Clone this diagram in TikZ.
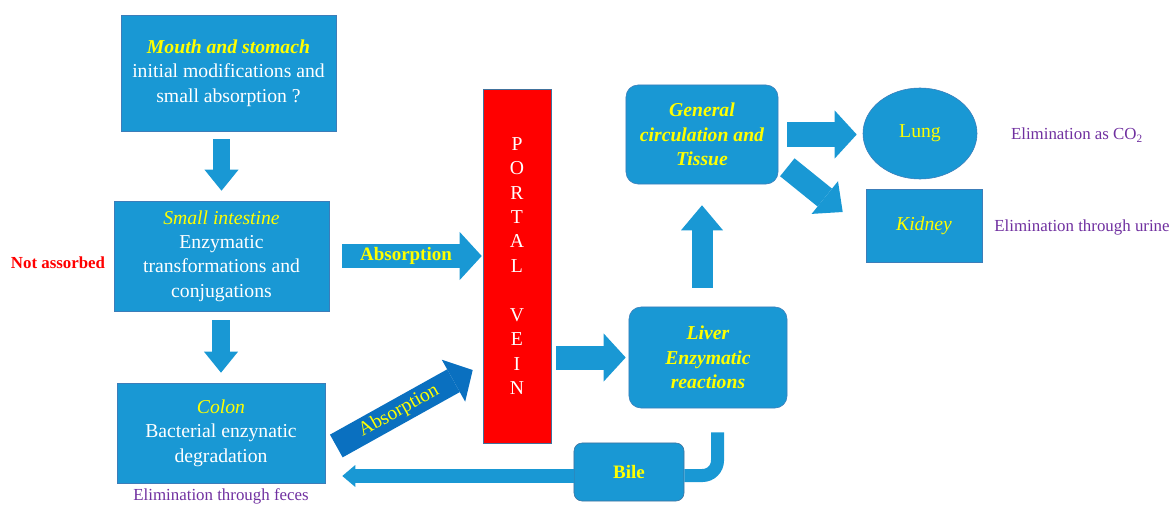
\documentclass[tikz,border=0pt]{standalone}
\usepackage{fontspec}
\setmainfont{Liberation Serif}
\usetikzlibrary{arrows.meta,calc,shapes.geometric}
\definecolor{boxblue}{RGB}{25,152,212}
\definecolor{boxedge}{RGB}{60,125,185}
\definecolor{deepblue}{RGB}{10,112,192}
\definecolor{titleyellow}{RGB}{255,255,0}
\definecolor{notepurple}{RGB}{112,48,160}
\definecolor{veinedge}{RGB}{65,113,156}
\newcommand{\organname}[1]{\textcolor{titleyellow}{\itshape #1}}
\tikzset{
  organ/.style={draw=boxedge, line width=0.4pt, fill=boxblue, text=white, align=center, inner sep=2pt, font=\fontsize{14}{17.4}\selectfont},
  softorgan/.style={organ, rounded corners=0.3cm, text=titleyellow, font=\fontsize{14}{17.4}\selectfont\bfseries\itshape},
  note/.style={text=notepurple, font=\fontsize{12}{14}\selectfont},
  flowarrow/.style={draw=boxblue, line width=0.6cm, -{Triangle[length=0.55cm, width=1.2cm, line width=0pt]}},
  downarrow/.style={draw=boxblue, line width=0.425cm, -{Triangle[length=0.525cm, width=0.85cm, line width=0pt]}},
  bilearrow/.style={draw=boxblue, line width=0.35cm, -{Triangle[length=0.325cm, width=0.55cm, line width=0pt]}},
  arrowtext/.style={text=titleyellow, font=\fontsize{13.5}{16}\selectfont\bfseries, inner sep=0pt}
}
\begin{document}
\begin{tikzpicture}[x=0.025cm, y=-0.025cm]
        \useasboundingbox (0,0) rectangle (1172,506);

        \node[organ, minimum width=5.375cm, minimum height=2.9cm] at (228.5,73) (mouth) {{\bfseries\organname{Mouth and stomach}}\\initial modifications and\\small absorption ?};
        \node[organ, minimum width=5.375cm, minimum height=2.75cm] at (221.5,256) (intestine) {\organname{Small intestine}\\Enzymatic\\transformations and\\conjugations};
        \node[organ, minimum width=5.2cm, minimum height=2.5cm] at (221,433) (colon) {\organname{Colon}\\Bacterial enzynatic\\degradation};
        \node[draw=veinedge, fill=red, text=white, align=center, inner sep=0pt, minimum width=1.7cm, minimum height=8.85cm, font=\fontsize{14}{17.4}\selectfont] at (517,266) (portal) {P\\O\\R\\T\\A\\L\\\mbox{}\\V\\E\\I\\N};
        \node[softorgan, minimum width=3.95cm, minimum height=2.525cm] at (708,357.5) (liver) {Liver\\Enzymatic\\reactions};
        \node[softorgan, minimum width=3.8cm, minimum height=2.475cm] at (702,134.5) (general) {General\\circulation and\\Tissue};
        \node[organ, ellipse, inner sep=0pt, minimum width=2.85cm, minimum height=2.275cm] at (920,133.5) (lung) {\textcolor{titleyellow}{Lung}};
        \node[organ, minimum width=2.9cm, minimum height=1.825cm] at (924,225.5) (kidney) {\organname{Kidney}};
        \node[organ, rounded corners=0.2cm, draw=veinedge, minimum width=2.75cm, minimum height=1.45cm, text=titleyellow, font=\fontsize{13.5}{16}\selectfont\bfseries] at (629,472) (bile) {Bile};

        \node[text=red, font=\fontsize{12}{14}\selectfont\bfseries] at (58,263) (lost) {Not assorbed};
        \node[note] at (221,496) (feces) {Elimination through feces};
        \node[note] at (1077,135) (co2) {Elimination as CO\textsubscript{2}};
        \node[note] at (1082,227) (urine) {Elimination through urine};

        \draw[downarrow, shorten <=0.2cm, shorten >=0.25cm] (mouth.south -| intestine.north) -- (intestine.north);
        \draw[downarrow, shorten <=0.225cm, shorten >=0.25cm] (intestine.south -| colon.north) -- (colon.north);
        \draw[flowarrow, line width=0.575cm, shorten <=0.325cm, shorten >=0.025cm] (intestine.east) -- (intestine.east -| portal.west) node[arrowtext, midway] (absorbed) {Absorption};
        \draw[flowarrow, draw=deepblue, line width=0.65cm] ($(colon.east)+(11,13)$) -- ($(portal.west)+(-10,104)$) node[arrowtext, pos=0.46, sloped, font=\fontsize{14}{16}\selectfont] (reabsorbed) {Absorption};
        \draw[flowarrow, shorten <=0.125cm, shorten >=0.075cm] (portal.east |- liver.west) -- (liver.west);
        \draw[flowarrow, line width=0.525cm, -{Triangle[length=0.625cm, width=1.05cm, line width=0pt]}, shorten <=0.475cm, shorten >=0.525cm] (liver.north -| general.south) -- (general.south);
        \draw[flowarrow, shorten <=0.225cm, shorten >=0.15cm] (general.east) -- (general.east -| lung.west);
        \draw[flowarrow, line width=0.575cm, -{Triangle[length=0.575cm, width=1.05cm, line width=0pt]}] ($(general.south east)+(9,-17)$) -- ($(kidney.west)+(-23,-13.5)$);
        \draw[draw=boxblue, line width=0.325cm, rounded corners=0.375cm] ($(liver.south)+(9.5,24)$) |- ($(bile.east)+(0,3.5)$);
        \draw[bilearrow] ($(bile.west)+(0,4)$) -- ($(colon.east |- bile.west)+(17,4)$);
      \end{tikzpicture}
\end{document}
